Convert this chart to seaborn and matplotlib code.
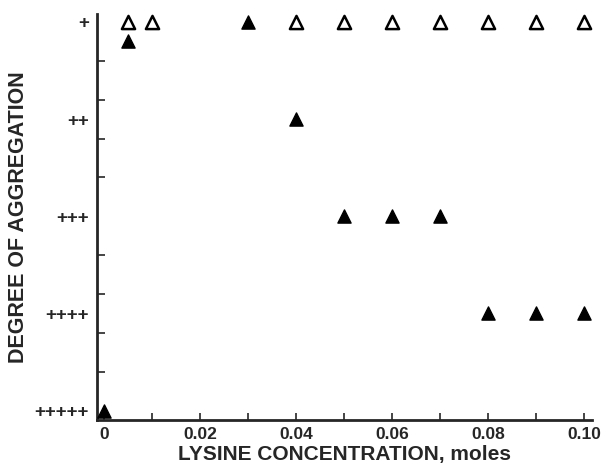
import numpy as np
import pandas as pd
import seaborn as sns
import matplotlib.pyplot as plt

# data (level 1 = "+", 5 = "+++++")
open_x = [0.005, 0.01, 0.04, 0.05, 0.06, 0.07, 0.08, 0.09, 0.10]
open_level = [1, 1, 1, 1, 1, 1, 1, 1, 1]
filled_x = [0.0, 0.005, 0.03, 0.04, 0.05, 0.06, 0.07, 0.08, 0.09, 0.10]
filled_level = [5, 1.2, 1, 2, 3, 3, 3, 4, 4, 4]
level_labels = ['+', '++', '+++', '++++', '+++++']
x_ticks = [0, 0.02, 0.04, 0.06, 0.08, 0.10]
x_ticklabels = ['0', '0.02', '0.04', '0.06', '0.08', '0.10']

df_open = pd.DataFrame({'x': open_x, 'level': open_level})
df_filled = pd.DataFrame({'x': filled_x, 'level': filled_level})

sns.set_style('ticks')
plt.rcParams['font.family'] = ['Liberation Sans', 'DejaVu Sans']
plt.rcParams['font.weight'] = 'bold'

fig = plt.figure(figsize=(6.03, 4.67), dpi=100)
ax = fig.add_axes([0.161, 0.100, 0.821, 0.870])

sns.scatterplot(data=df_open, x='x', y='level', marker='^', s=90,
                facecolor='white', edgecolor='black', linewidth=1.8, ax=ax, zorder=3)
sns.scatterplot(data=df_filled, x='x', y='level', marker='^', s=90,
                color='black', edgecolor='black', linewidth=1.0, ax=ax, zorder=3)

ax.set_xlim(-0.00146, 0.1017)
ax.set_ylim(5.10, 0.918)

ax.set_xticks(x_ticks)
ax.set_xticklabels(x_ticklabels)
ax.set_xticks(np.arange(0.01, 0.1, 0.02), minor=True)
ax.set_yticks([1, 2, 3, 4, 5])
ax.set_yticklabels(level_labels)
ax.set_yticks(np.arange(1, 5.01, 0.4), minor=True)

ax.tick_params(axis='x', which='both', direction='in', length=5, width=1.2, labelsize=12.5, pad=5)
ax.tick_params(axis='y', which='major', length=0, labelsize=13.5, pad=6)
ax.tick_params(axis='y', which='minor', direction='in', length=6, width=1.2)

for side in ['top', 'right']:
    ax.spines[side].set_visible(False)
for side in ['left', 'bottom']:
    ax.spines[side].set_linewidth(2)

ax.set_xlabel('LYSINE CONCENTRATION, moles', fontsize=15, fontweight='bold', labelpad=2)
ax.set_ylabel('DEGREE OF AGGREGATION', fontsize=15.5, fontweight='bold', labelpad=4)

plt.savefig('out.png', dpi=100)
